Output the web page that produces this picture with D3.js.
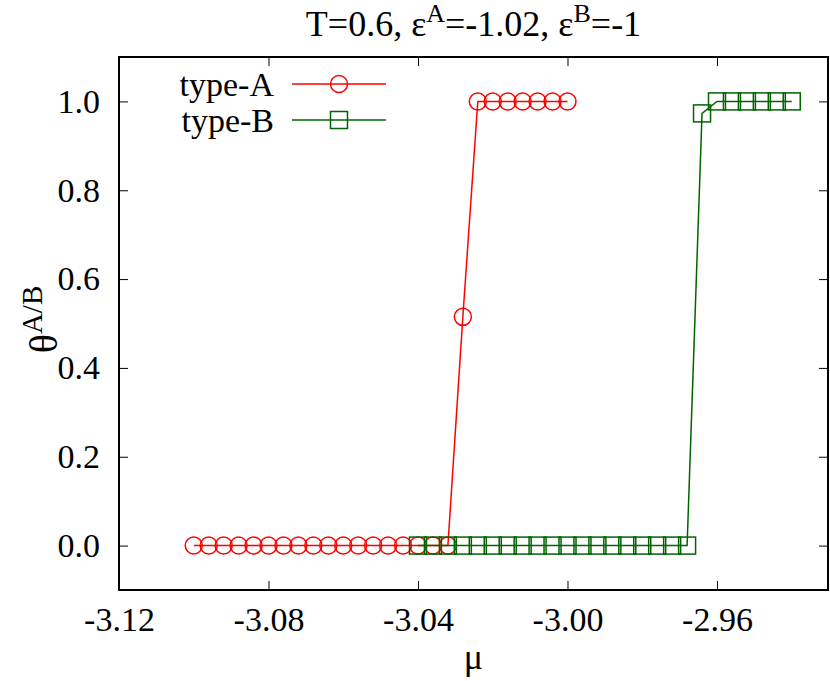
<!DOCTYPE html>
<meta charset="utf-8">
<style>
  body { margin: 0; background: #fff; }
  svg text { font-family: "Liberation Serif", "Times New Roman", serif; fill: #000; }
  .axis path, .axis line { stroke: #000; }
</style>
<body>
<script src="https://cdn.jsdelivr.net/npm/d3@7"></script>
<script>

// data
var muA = [-3.1, -3.096, -3.092, -3.088, -3.084, -3.08, -3.076, -3.072, -3.068, -3.064,
           -3.06, -3.056, -3.052, -3.048, -3.044, -3.04, -3.036, -3.032, -3.028,
           -3.024, -3.02, -3.016, -3.012, -3.008, -3.004, -3.0];
var thetaA = [0, 0, 0, 0, 0, 0, 0, 0, 0, 0,
              0, 0, 0, 0, 0, 0, 0, 0, 0.515,
              1, 1, 1, 1, 1, 1, 1];

var muB = [-3.04, -3.036, -3.032, -3.028, -3.024, -3.02, -3.016, -3.012, -3.008, -3.004,
           -3.0, -2.996, -2.992, -2.988, -2.984, -2.98, -2.976, -2.972, -2.968,
           -2.964, -2.96, -2.956, -2.952, -2.948, -2.944, -2.94];
var thetaB = [0, 0, 0, 0, 0, 0, 0, 0, 0, 0,
              0, 0, 0, 0, 0, 0, 0, 0, 0,
              0.973, 1, 1, 1, 1, 1, 1];

var xTicks = [-3.12, -3.08, -3.04, -3.00, -2.96];
var yTicks = [0, 0.2, 0.4, 0.6, 0.8, 1.0];

var W = 830, H = 681;
var margin = {top: 57, right: 2, bottom: 91, left: 119};
var w = W - margin.left - margin.right,
    h = H - margin.top - margin.bottom;
var fsTick = 34, fs = 36, fsSup = 26, fsKey = 34;

var svg = d3.select("body").append("svg")
    .attr("width", W)
    .attr("height", H);

var chart = svg.append("g")
    .attr("transform", "translate(" + margin.left + "," + margin.top + ")");

var x = d3.scaleLinear().domain([-3.12, -2.9303]).range([0, w]);
var y = d3.scaleLinear().domain([-0.1, 1.1]).range([h, 0]);

var tick = 9;
var fmtX = function(d) { return d3.format(".2f")(d).replace("−", "-"); };

// bottom + top ticks (gnuplot mirrors them)
var xaxis = chart.append("g")
    .attr("class", "axis")
    .attr("transform", "translate(0," + h + ")")
    .call(d3.axisBottom(x).tickValues(xTicks).tickSizeInner(-tick).tickSizeOuter(0).tickPadding(17)
      .tickFormat(fmtX));
xaxis.select(".domain").remove();
xaxis.selectAll("text").style("font-size", fsTick + "px").attr("dy", "0.71em");

var xtop = chart.append("g")
    .attr("class", "axis")
    .call(d3.axisTop(x).tickValues(xTicks).tickSizeInner(-tick).tickSizeOuter(0).tickFormat(""));
xtop.select(".domain").remove();

var yaxis = chart.append("g")
    .attr("class", "axis")
    .call(d3.axisLeft(y).tickValues(yTicks).tickSizeInner(-tick).tickSizeOuter(0).tickPadding(19)
      .tickFormat(d3.format(".1f")));
yaxis.select(".domain").remove();
yaxis.selectAll("text").style("font-size", fsTick + "px");

var yright = chart.append("g")
    .attr("class", "axis")
    .attr("transform", "translate(" + w + ",0)")
    .call(d3.axisRight(y).tickValues(yTicks).tickSizeInner(-tick).tickSizeOuter(0).tickFormat(""));
yright.select(".domain").remove();

chart.selectAll(".axis line").attr("stroke-width", 1);

// frame
chart.append("rect")
    .attr("width", w).attr("height", h)
    .attr("fill", "none").attr("stroke", "#000").attr("stroke-width", 2);

var line = d3.line().x(function(d) { return x(d[0]); }).y(function(d) { return y(d[1]); });

var dataA = d3.zip(muA, thetaA);
var dataB = d3.zip(muB, thetaB);

var red = "#ff0000", green = "#006400";

chart.append("path").datum(dataA)
    .attr("d", line).attr("fill", "none").attr("stroke", red).attr("stroke-width", 1.5);
chart.selectAll("circle.a").data(dataA).enter().append("circle")
    .attr("class", "a")
    .attr("cx", function(d) { return x(d[0]); })
    .attr("cy", function(d) { return y(d[1]); })
    .attr("r", 8.5)
    .attr("fill", "none").attr("stroke", red).attr("stroke-width", 1.5);

chart.append("path").datum(dataB)
    .attr("d", line).attr("fill", "none").attr("stroke", green).attr("stroke-width", 1.5);
var s = 17;
chart.selectAll("rect.b").data(dataB).enter().append("rect")
    .attr("class", "b")
    .attr("x", function(d) { return x(d[0]) - s / 2; })
    .attr("y", function(d) { return y(d[1]) - s / 2; })
    .attr("width", s).attr("height", s)
    .attr("fill", "none").attr("stroke", green).attr("stroke-width", 1.5);

// legend
var legend = [
  {label: "type-A", color: red, shape: "circle", y: 84},
  {label: "type-B", color: green, shape: "square", y: 120}
];
legend.forEach(function(l) {
  var g = svg.append("g");
  g.append("text").attr("x", 274).attr("y", l.y).attr("dy", "0.35em")
    .attr("text-anchor", "end").style("font-size", fsKey + "px").text(l.label);
  g.append("line").attr("x1", 292).attr("x2", 386).attr("y1", l.y).attr("y2", l.y)
    .attr("stroke", l.color).attr("stroke-width", 1.5);
  if (l.shape == "circle") {
    g.append("circle").attr("cx", 339).attr("cy", l.y).attr("r", 8.5)
      .attr("fill", "none").attr("stroke", l.color).attr("stroke-width", 1.5);
  } else {
    g.append("rect").attr("x", 339 - s / 2).attr("y", l.y - s / 2).attr("width", s).attr("height", s)
      .attr("fill", "none").attr("stroke", l.color).attr("stroke-width", 1.5);
  }
});

// title
var title = svg.append("text")
    .attr("x", margin.left + w / 2).attr("y", 36)
    .attr("text-anchor", "middle").style("font-size", fs + "px");
title.append("tspan").text("T=0.6, ε");
title.append("tspan").attr("dy", -14).style("font-size", fsSup + "px").text("A");
title.append("tspan").attr("dy", 14).text("=-1.02, ε");
title.append("tspan").attr("dy", -14).style("font-size", fsSup + "px").text("B");
title.append("tspan").attr("dy", 14).text("=-1");

// axis labels
svg.append("text")
    .attr("x", margin.left + w / 2).attr("y", 669)
    .attr("text-anchor", "middle").style("font-size", fs + "px").text("μ");

var ylab = svg.append("text")
    .attr("transform", "translate(57," + (margin.top + h / 2 - 4) + ") rotate(-90)")
    .attr("text-anchor", "middle").style("font-size", "40px");
ylab.append("tspan").text("θ");
ylab.append("tspan").attr("dy", -15).style("font-size", "29px").text("A/B");

</script>
</body>
